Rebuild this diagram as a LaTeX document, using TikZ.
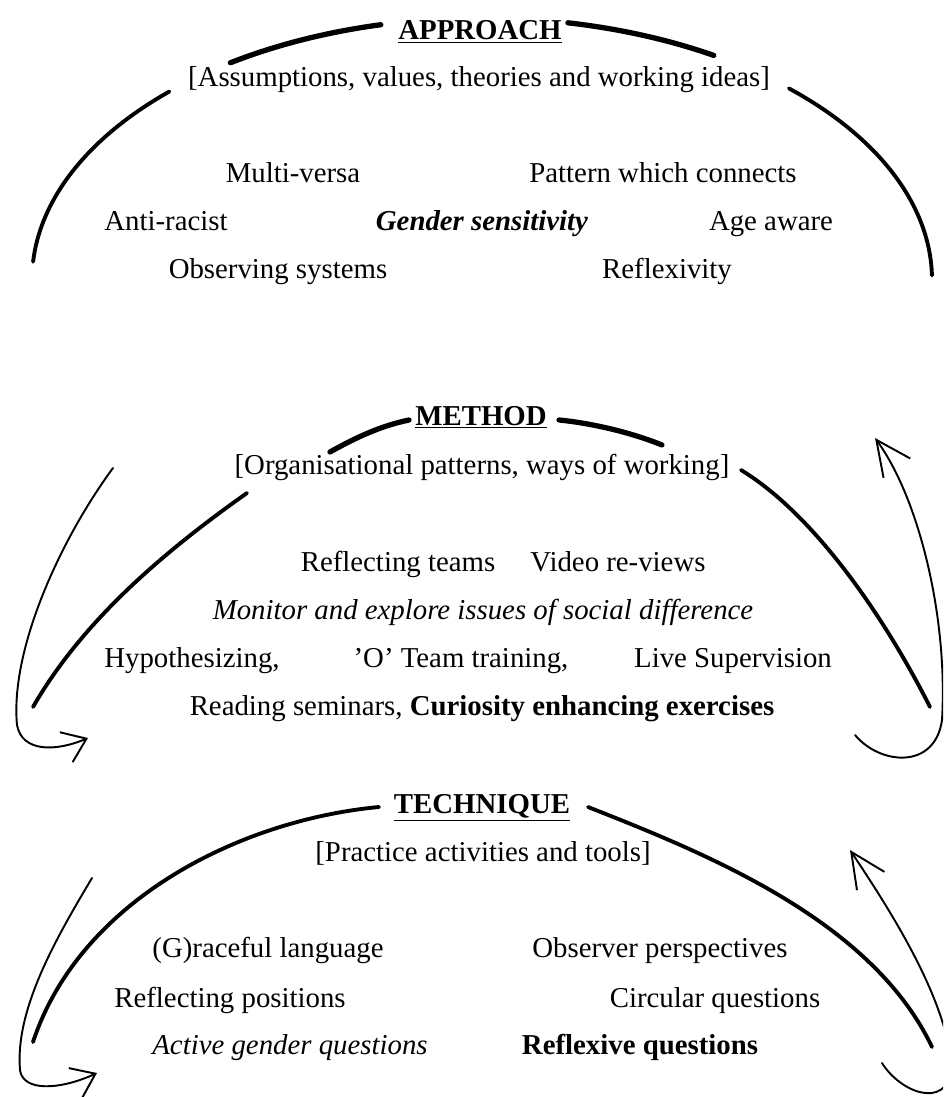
\documentclass[tikz,border=0pt]{standalone}
\usepackage{fontspec}
\setmainfont{Liberation Serif}
\usetikzlibrary{arrows.meta}
\newcommand{\txtsize}{\fontsize{16.4}{20}\selectfont}

\begin{document}
\begin{tikzpicture}[x=0.02cm,y=0.02cm,
  item/.style={anchor=base,inner sep=0pt,font=\txtsize},
  head/.style={anchor=base,inner sep=0pt,font=\txtsize\bfseries},
  arcline/.style={line width=2.2pt,line cap=round},
  toparc/.style={line width=3pt,line cap=round},
  backarrow/.style={line width=1.1pt,line cap=round,-{Straight Barb[length=4.4mm,width=6.5mm]}},
  uparrow/.style={line width=1.1pt,line cap=round,-{Straight Barb[length=7mm,width=6.6mm]}}]
  \useasboundingbox (0,0) rectangle (943,-1097);
  \clip (0,0) rectangle (943,-1097);
  % Approach
  \node[head] (approach)    at (480,-40)  {\underline{APPROACH}};
  \node[item] (approachsub) at (479,-87)  {[Assumptions, values, theories and working ideas]};
  \node[item] (multiversa)  at (293,-183) {Multi-versa};
  \node[item] (pattern)     at (663,-183) {Pattern which connects};
  \node[item] (antiracist)  at (166,-231) {Anti-racist};
  \node[item] (gender)      at (482,-231) {\textbf{\textit{Gender sensitivity}}};
  \node[item] (ageaware)    at (771,-231) {Age aware};
  \node[item] (observing)   at (278,-279) {Observing systems};
  \node[item] (reflexivity) at (667,-279) {Reflexivity};
  \coordinate (apc) at (482,-280);
  \draw[arcline] (apc) ++(176:450 and 262) arc[start angle=176,end angle=134,x radius=450,y radius=262];
  \draw[toparc]  (apc) ++(124:450 and 262) arc[start angle=124,end angle=103,x radius=450,y radius=262];
  \draw[toparc]  (apc) ++(79:450 and 262)  arc[start angle=79,end angle=59,x radius=450,y radius=262];
  \draw[arcline] (apc) ++(47:450 and 262)  arc[start angle=47,end angle=1,x radius=450,y radius=262];
  % Method
  \node[head] (method)      at (481,-425) {\underline{METHOD}};
  \node[item] (methodsub)   at (482,-474) {[Organisational patterns, ways of working]};
  \node[item] (refteams)    at (398,-571) {Reflecting teams};
  \node[item] (video)       at (618,-571) {Video re-views};
  \node[item] (monitor)     at (483,-619) {\textit{Monitor and explore issues of social difference}};
  \node[item] (hypo)        at (192,-667) {Hypothesizing,};
  \node[item] (oteam)       at (461,-667) {'O' Team training,};
  \node[item] (live)        at (733,-667) {Live Supervision};
  \node[item] (reading)     at (482,-715) {Reading seminars, \textbf{Curiosity enhancing exercises}};
  \draw[arcline] (33,-707) .. controls (83,-620) and (165,-551) .. (247,-493);
  \draw[toparc]  (330,-452) .. controls (355,-438) and (380,-426) .. (409,-420);
  \draw[toparc]  (559,-420) .. controls (590,-423) and (630,-432) .. (662,-445);
  \draw[arcline] (741,-470) .. controls (815,-515) and (885,-618) .. (930,-707);
  \draw[backarrow] (113,-468) .. controls (60,-540) and (10,-650) .. (17,-725)
    .. controls (22,-752) and (55,-752) .. (88,-738);
  \draw[uparrow] (855,-735) .. controls (880,-765) and (935,-770) .. (942,-720)
    .. controls (948,-620) and (920,-500) .. (875,-438);
  % Technique
  \node[head] (technique)   at (482,-813) {\underline{TECHNIQUE}};
  \node[item] (techsub)     at (483,-861) {[Practice activities and tools]};
  \node[item] (graceful)    at (268,-957) {(G)raceful language};
  \node[item] (observer)    at (660,-957) {Observer perspectives};
  \node[item] (refpos)      at (230,-1007) {Reflecting positions};
  \node[item] (circular)    at (715,-1007) {Circular questions};
  \node[item] (activeq)     at (290,-1054) {\textit{Active gender questions}};
  \node[item] (reflexiveq)  at (640,-1054) {\textbf{Reflexive questions}};
  \draw[arcline] (379,-807) .. controls (240,-820) and (80,-900) .. (33,-1042);
  \draw[arcline] (588,-807) .. controls (710,-855) and (872,-921) .. (932,-1047);
  \draw[backarrow] (92,-878) .. controls (55,-940) and (15,-1010) .. (20,-1070)
    .. controls (23,-1092) and (60,-1090) .. (97,-1073);
  \draw[uparrow] (882,-1063) .. controls (900,-1092) and (945,-1110) .. (952,-1070)
    .. controls (948,-1000) and (890,-910) .. (850,-850);
\end{tikzpicture}
\end{document}
